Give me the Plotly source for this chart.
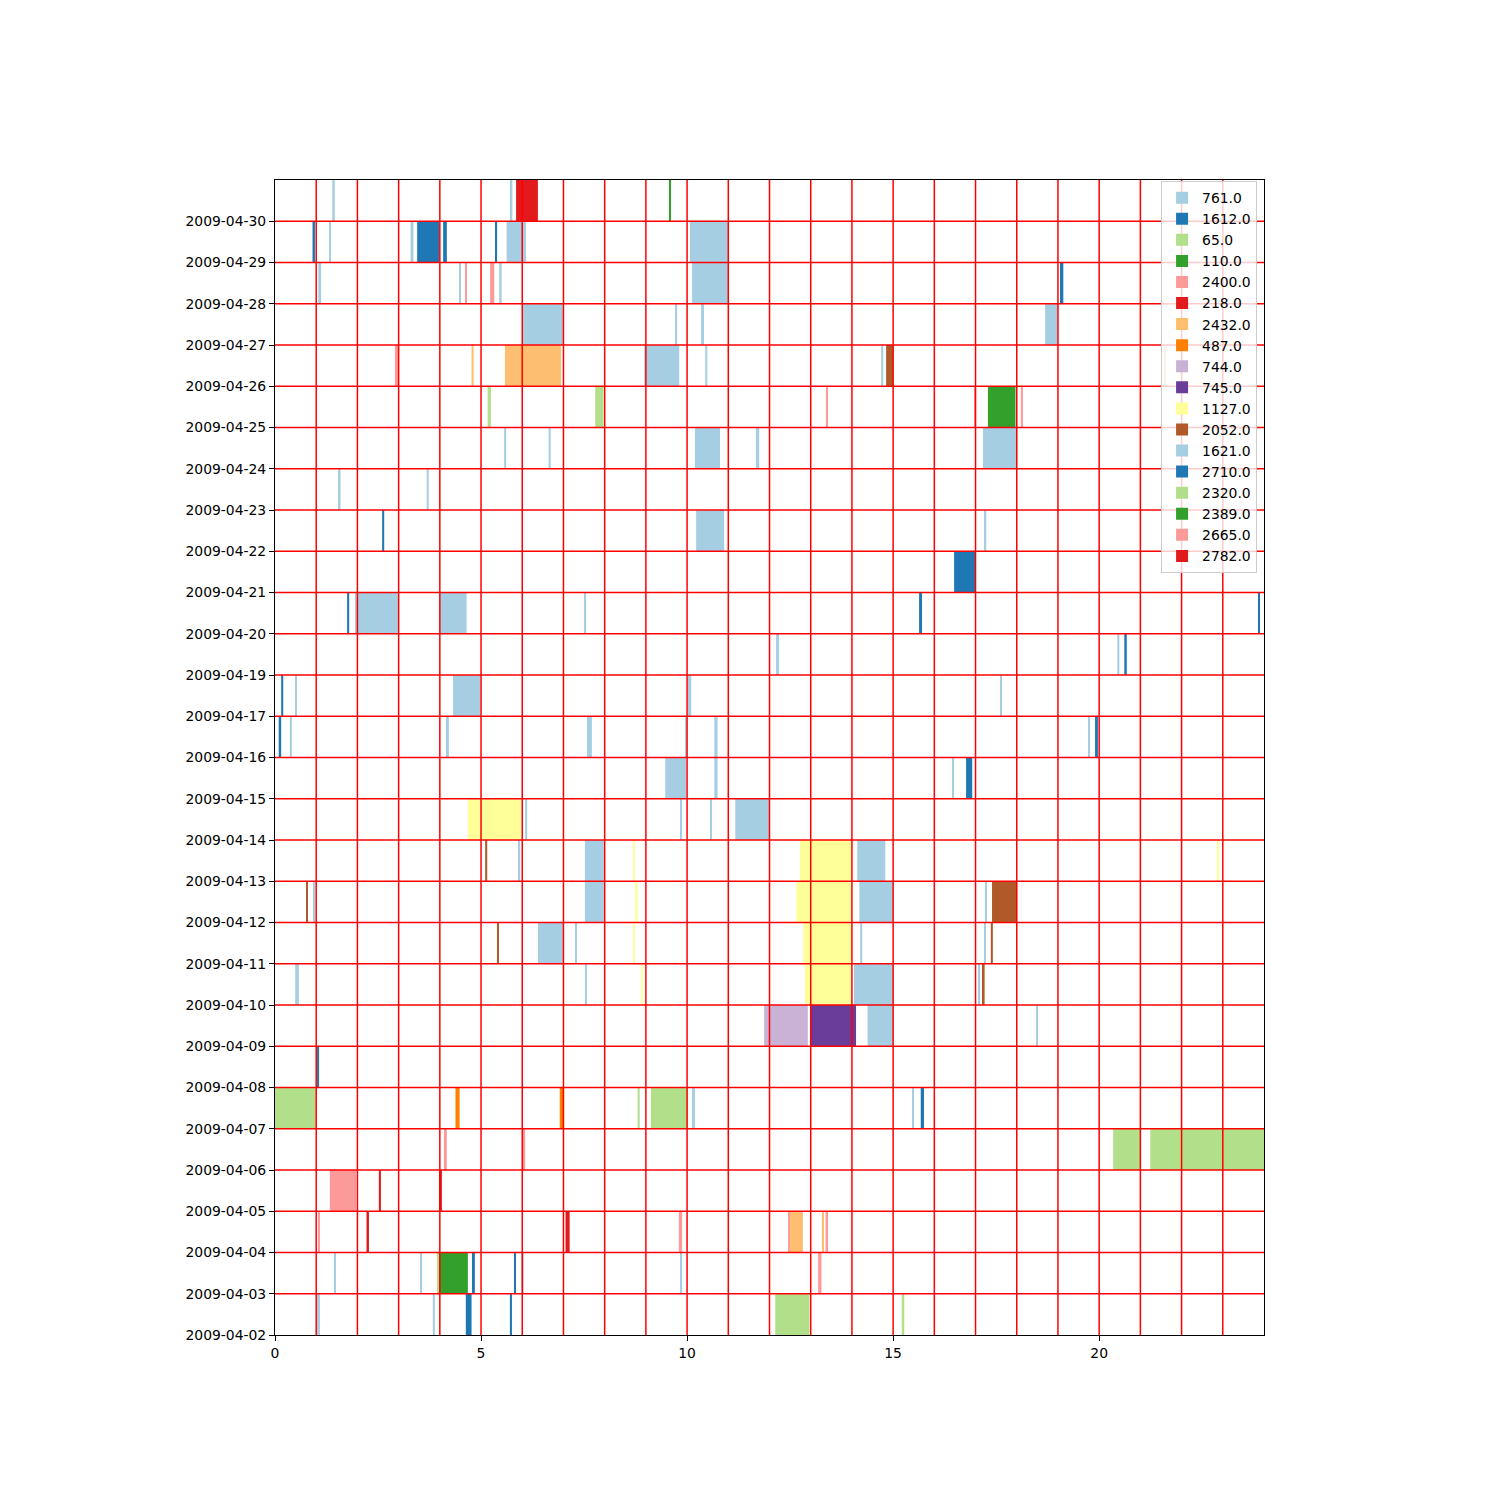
import plotly.graph_objects as go

# ---------------- data ----------------
DATES = ["2009-04-02", "2009-04-03", "2009-04-04", "2009-04-05", "2009-04-06",
         "2009-04-07", "2009-04-08", "2009-04-09", "2009-04-10", "2009-04-11",
         "2009-04-12", "2009-04-13", "2009-04-14", "2009-04-15", "2009-04-16",
         "2009-04-17", "2009-04-19", "2009-04-20", "2009-04-21", "2009-04-22",
         "2009-04-23", "2009-04-24", "2009-04-25", "2009-04-26", "2009-04-27",
         "2009-04-28", "2009-04-29", "2009-04-30"]

X_TICKS = [0, 5, 10, 15, 20]
HOURS = list(range(0, 25))

SERIES_NAMES = ["761.0", "1612.0", "65.0", "110.0", "2400.0", "218.0", "2432.0",
                "487.0", "744.0", "745.0", "1127.0", "2052.0", "1621.0", "2710.0",
                "2320.0", "2389.0", "2665.0", "2782.0"]

SERIES_COLORS = ["#a6cee3", "#1f78b4", "#b2df8a", "#33a02c", "#fb9a99", "#e31a1c",
                 "#fdbf6f", "#ff7f00", "#cab2d6", "#6a3d9a", "#ffff99", "#b15928",
                 "#a6cee3", "#1f78b4", "#b2df8a", "#33a02c", "#fb9a99", "#e31a1c"]

# (date, start hour, end hour)
S761 = [("2009-04-30", 1.39, 1.45), ("2009-04-30", 5.70, 5.76),
        ("2009-04-29", 1.31, 1.36), ("2009-04-29", 3.29, 3.36), ("2009-04-29", 5.62, 6.09), ("2009-04-29", 10.07, 11.0),
        ("2009-04-28", 1.05, 1.12), ("2009-04-28", 4.47, 4.50), ("2009-04-28", 5.44, 5.50), ("2009-04-28", 10.12, 11.0),
        ("2009-04-27", 6.0, 7.0), ("2009-04-27", 9.72, 9.76), ("2009-04-27", 10.34, 10.41), ("2009-04-27", 18.69, 19.0),
        ("2009-04-26", 8.96, 9.81), ("2009-04-26", 10.44, 10.49), ("2009-04-26", 14.71, 14.76),
        ("2009-04-24", 5.56, 5.61), ("2009-04-24", 6.64, 6.69), ("2009-04-24", 10.19, 10.80),
        ("2009-04-24", 11.67, 11.75), ("2009-04-24", 17.18, 17.99),
        ("2009-04-23", 1.55, 1.59), ("2009-04-23", 3.68, 3.73),
        ("2009-04-22", 10.22, 10.90), ("2009-04-22", 17.22, 17.26),
        ("2009-04-20", 1.94, 2.98), ("2009-04-20", 4.0, 4.65), ("2009-04-20", 7.52, 7.55)]

S1612 = [("2009-04-29", 0.91, 0.97), ("2009-04-29", 3.45, 3.99), ("2009-04-29", 4.08, 4.17),
         ("2009-04-29", 5.36, 5.39), ("2009-04-28", 19.05, 19.13), ("2009-04-22", 2.60, 2.65),
         ("2009-04-21", 16.48, 16.99), ("2009-04-20", 1.75, 1.80), ("2009-04-20", 15.63, 15.70),
         ("2009-04-20", 23.86, 23.90)]

S65 = [("2009-04-25", 5.16, 5.24), ("2009-04-25", 7.77, 7.97),
       ("2009-04-07", 0.0, 0.99), ("2009-04-07", 8.80, 8.85), ("2009-04-07", 9.12, 10.02)]

S110 = [("2009-04-30", 9.56, 9.61), ("2009-04-25", 17.30, 17.97)]

S2400 = [("2009-04-28", 4.61, 4.66), ("2009-04-28", 5.22, 5.32), ("2009-04-26", 2.91, 2.99),
         ("2009-04-25", 13.37, 13.42), ("2009-04-25", 16.97, 17.0), ("2009-04-25", 18.10, 18.15)]

S218 = [("2009-04-30", 5.85, 6.38)]

S2432 = [("2009-04-26", 4.77, 4.82), ("2009-04-26", 5.58, 6.94), ("2009-04-26", 21.58, 21.62),
         ("2009-04-04", 12.50, 12.81), ("2009-04-04", 13.28, 13.31)]

S487 = [("2009-04-07", 4.38, 4.48), ("2009-04-07", 6.91, 6.99)]

S744 = [("2009-04-09", 11.87, 12.93)]

S745 = [("2009-04-09", 13.0, 14.10)]

S1127 = [("2009-04-14", 4.68, 5.97),
         ("2009-04-13", 8.69, 8.73), ("2009-04-13", 12.74, 13.98), ("2009-04-13", 22.87, 22.91),
         ("2009-04-12", 8.76, 8.80), ("2009-04-12", 12.65, 13.98),
         ("2009-04-11", 8.69, 8.72), ("2009-04-11", 12.82, 13.98),
         ("2009-04-10", 8.90, 8.93), ("2009-04-10", 12.86, 13.98)]

S2052 = [("2009-04-26", 14.83, 15.0), ("2009-04-13", 5.10, 5.15), ("2009-04-12", 0.77, 0.80),
         ("2009-04-12", 17.40, 17.99), ("2009-04-11", 5.39, 5.42), ("2009-04-11", 17.37, 17.42),
         ("2009-04-10", 17.18, 17.22)]

S1621 = [("2009-04-19", 12.16, 12.23), ("2009-04-19", 20.44, 20.49),
         ("2009-04-17", 0.49, 0.53), ("2009-04-17", 4.32, 4.98), ("2009-04-17", 10.02, 10.10),
         ("2009-04-17", 17.60, 17.63),
         ("2009-04-16", 0.36, 0.41), ("2009-04-16", 4.15, 4.22), ("2009-04-16", 7.57, 7.69),
         ("2009-04-16", 9.96, 9.99), ("2009-04-16", 10.66, 10.74), ("2009-04-16", 19.73, 19.77),
         ("2009-04-15", 9.47, 9.98), ("2009-04-15", 10.66, 10.74), ("2009-04-15", 16.43, 16.46),
         ("2009-04-14", 6.07, 6.12), ("2009-04-14", 9.85, 9.88), ("2009-04-14", 10.56, 10.60),
         ("2009-04-14", 11.17, 11.99),
         ("2009-04-13", 5.92, 5.95), ("2009-04-13", 7.52, 7.98), ("2009-04-13", 14.13, 14.81),
         ("2009-04-12", 0.94, 0.97), ("2009-04-12", 7.52, 7.98), ("2009-04-12", 14.18, 15.0),
         ("2009-04-12", 17.23, 17.26),
         ("2009-04-11", 6.38, 7.0), ("2009-04-11", 7.30, 7.32), ("2009-04-11", 14.20, 14.25),
         ("2009-04-11", 17.22, 17.25),
         ("2009-04-10", 0.49, 0.58), ("2009-04-10", 7.52, 7.57), ("2009-04-10", 14.05, 15.0),
         ("2009-04-10", 17.07, 17.09),
         ("2009-04-09", 14.38, 15.0), ("2009-04-09", 18.47, 18.50),
         ("2009-04-07", 10.12, 10.19), ("2009-04-07", 15.46, 15.49),
         ("2009-04-03", 1.43, 1.48), ("2009-04-03", 3.54, 3.57), ("2009-04-03", 5.98, 6.04),
         ("2009-04-03", 9.85, 9.88),
         ("2009-04-02", 1.01, 1.09), ("2009-04-02", 3.83, 3.88)]

S2710 = [("2009-04-19", 20.61, 20.67), ("2009-04-17", 0.15, 0.20), ("2009-04-16", 0.09, 0.15),
         ("2009-04-16", 19.90, 19.97), ("2009-04-15", 16.77, 16.92), ("2009-04-08", 1.02, 1.07),
         ("2009-04-07", 15.67, 15.75), ("2009-04-03", 4.78, 4.85), ("2009-04-03", 5.80, 5.83),
         ("2009-04-02", 4.63, 4.77), ("2009-04-02", 5.70, 5.75)]

S2320 = [("2009-04-06", 20.34, 20.99), ("2009-04-06", 21.24, 24.0), ("2009-04-03", 3.94, 3.98),
         ("2009-04-02", 12.14, 12.97), ("2009-04-02", 15.21, 15.27)]

S2389 = [("2009-04-03", 3.98, 4.68)]

S2665 = [("2009-04-06", 4.10, 4.17), ("2009-04-06", 6.0, 6.07), ("2009-04-05", 1.33, 1.97),
         ("2009-04-04", 1.04, 1.09), ("2009-04-04", 9.80, 9.88), ("2009-04-04", 12.46, 12.50),
         ("2009-04-04", 13.36, 13.42), ("2009-04-03", 13.18, 13.26)]

S2782 = [("2009-04-05", 2.52, 2.57), ("2009-04-05", 3.98, 4.05),
         ("2009-04-04", 2.22, 2.28), ("2009-04-04", 7.05, 7.15)]

SERIES_BARS = [S761, S1612, S65, S110, S2400, S218, S2432, S487, S744, S745,
               S1127, S2052, S1621, S2710, S2320, S2389, S2665, S2782]

# ---------------- figure ----------------
FONT = "DejaVu Sans"
fig = go.Figure()

for name, color, bars in zip(SERIES_NAMES, SERIES_COLORS, SERIES_BARS):
    ys = [DATES.index(d) + 0.5 for d, s, e in bars]
    starts = [s for d, s, e in bars]
    durs = [e - s for d, s, e in bars]
    fig.add_trace(go.Bar(
        orientation="h", y=ys, x=durs, base=starts, width=[1.0] * len(bars),
        name=name, marker=dict(color=color, line=dict(width=0)),
    ))

GRID = dict(color="#ff0000", width=1.5)
shapes = []
for h in HOURS[1:-1]:
    shapes.append(dict(type="line", xref="x", yref="paper", x0=h, x1=h, y0=0, y1=1,
                       line=GRID, layer="above"))
for i in range(1, len(DATES)):
    shapes.append(dict(type="line", xref="paper", yref="y", x0=0, x1=1, y0=i, y1=i,
                       line=GRID, layer="above"))

fig.update_layout(
    width=1500, height=1500,
    margin=dict(l=275, r=236, t=180, b=165, pad=0),
    paper_bgcolor="white", plot_bgcolor="white",
    barmode="overlay",
    font=dict(family=FONT, size=13.9, color="black"),
    shapes=shapes,
    legend=dict(x=0.993, y=0.999, xanchor="right", yanchor="top",
                bgcolor="rgba(255,255,255,0.8)", bordercolor="#cccccc", borderwidth=1,
                font=dict(family=FONT, size=13.9, color="black"),
                traceorder="normal"),
)
fig.update_xaxes(range=[0, 24], tickvals=X_TICKS, ticktext=[str(t) for t in X_TICKS],
                 showgrid=False, zeroline=False, showline=True, linecolor="black",
                 linewidth=1, mirror=True, ticks="outside", ticklen=5, tickwidth=1,
                 tickcolor="black", tickfont=dict(family=FONT, size=13.9, color="black"))
fig.update_yaxes(range=[0, len(DATES)], tickvals=list(range(len(DATES))), ticktext=DATES,
                 showgrid=False, zeroline=False, showline=True, linecolor="black",
                 linewidth=1, mirror=True, ticks="outside", ticklen=5, tickwidth=1,
                 tickcolor="black", tickfont=dict(family=FONT, size=13.9, color="black"))

fig.write_html("out.html")
